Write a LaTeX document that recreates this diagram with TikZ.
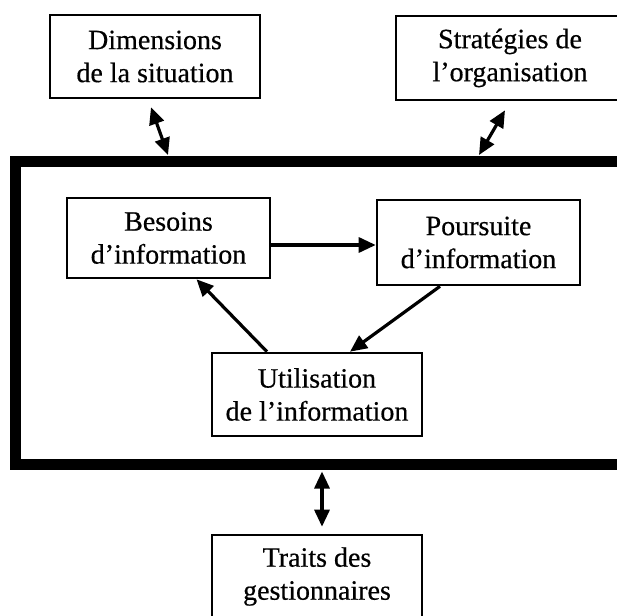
\documentclass[tikz,border=0pt]{standalone}
\usepackage{fontspec}
\setmainfont{Liberation Serif}
\newfontfamily\scanfont{Liberation Serif}[FakeBold=0.5]
\usetikzlibrary{arrows.meta,calc}
\begin{document}
\begin{tikzpicture}[x=1pt,y=-1pt,
  box/.style={draw=black,line width=2.6pt,align=center,inner sep=0pt,
    font=\scanfont\fontsize{28}{33}\selectfont},
  frm/.style={draw=black,line width=11pt,inner sep=0pt},
  arr/.style={line width=3.2pt,-{Triangle[length=17pt,width=15pt]}},
  dbl/.style={line width=3.2pt,{Triangle[length=17pt,width=15pt]}-{Triangle[length=17pt,width=15pt]}}]
\useasboundingbox (0,0) rectangle (617,615);
\node[frm,minimum width=634.5pt,minimum height=302.5pt] (frame) at (332.75,312.75) {};
\node[box,minimum width=210pt,minimum height=83pt] (dim) at (155,56.5) {Dimensions\\de la situation};
\node[box,minimum width=228pt,minimum height=84pt] (strat) at (510,58) {Stratégies de\\l’organisation};
\node[box,minimum width=203pt,minimum height=80pt] (bes) at (168.5,238) {Besoins\\d’information};
\node[box,minimum width=203pt,minimum height=85pt] (pou) at (478.5,242.5) {Poursuite\\d’information};
\node[box,minimum width=210pt,minimum height=83pt] (uti) at (317,394.5) {Utilisation\\de l’information};
\node[box,minimum width=210pt,minimum height=83pt] (tra) at (317,576.5) {Traits des\\gestionnaires};
\draw[dbl] ([xshift=-4pt,yshift=-8pt]dim.south) -- ([xshift=-164.75pt,yshift=1pt]frame.north);
\draw[dbl] ([xshift=-5pt,yshift=-9pt]strat.south) -- ([xshift=146.25pt,yshift=1pt]frame.north);
\draw[dbl] ([xshift=-10.75pt,yshift=-2pt]frame.south) -- ([xshift=5pt,yshift=7pt]tra.north);
\draw[arr] ([yshift=-7pt]bes.east) -- ([yshift=-2.5pt]pou.west);
\draw[arr] ([xshift=-38.5pt]pou.south) -- ([xshift=33pt]uti.north);
\draw[arr] ([xshift=-50pt]uti.north) -- ([xshift=28pt]bes.south);
\end{tikzpicture}
\end{document}
